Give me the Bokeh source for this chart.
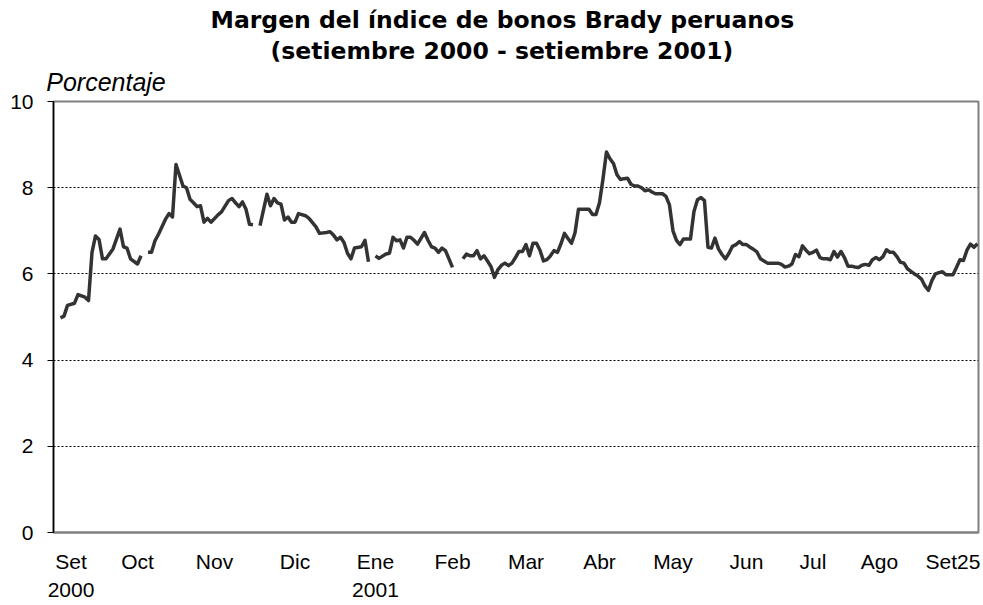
import numpy as np
from bokeh.plotting import figure
from bokeh.models import Range1d, FixedTicker, ColumnDataSource, Title, LinearAxis
from bokeh.embed import file_html
from bokeh.resources import INLINE

nan = float("nan")

# trading-day index (0 = start of Sep 2000) and spread in percent
dia = [2, 3, 4, 6, 7, 9, 10, 11, 12, 13, 14, 15, 17, 19, 20, 21, 22, 24, 25, 26,
       27, 28, 29, 30, 32, 33, 34, 35, 37, 38, 39, 40, 41, 42, 43, 44, 45, 47, 48, 50,
       51, 52, 53, 54, 55, 56, 57, 58,
       59, 61, 62, 63, 64, 65, 66, 67, 68, 69, 70, 72, 73, 75, 76, 78, 79, 80, 81, 82,
       83, 84, 85, 86, 88, 89, 90, 91,
       92, 93, 95, 96, 97, 98, 99, 100, 101, 102, 103, 104, 106, 107, 108, 109, 110, 111,
       112, 113, 114, 115,
       117, 118, 119, 120, 121, 122, 123, 124, 125, 126, 127, 128, 129, 130, 131, 132,
       133, 134, 135, 136, 137, 138, 139, 140, 141, 142, 143, 144, 145, 146, 147, 148,
       149, 150, 151, 152, 153, 154, 155, 156, 157, 158, 159, 160, 161, 162, 163, 164,
       165, 166, 167, 168, 169, 170, 171, 172, 173, 174, 175, 176, 177, 178, 179, 180,
       181, 182, 183, 184, 185, 186, 187, 188, 189, 190, 191, 192, 193, 194, 195, 196,
       197, 198, 199, 200, 201, 202, 203, 204, 205, 206, 207, 208, 209, 210, 211, 212,
       213, 214, 215, 216, 217, 218, 219, 220, 221, 222, 223, 224, 225, 226, 227, 228,
       229, 230, 231, 232, 233, 234, 235, 236, 237, 238, 239, 240, 241, 242, 243, 244,
       245, 246, 247, 248, 249, 250, 251, 252, 253, 254, 255, 256, 257, 258, 259, 260,
       261, 262, 263, 264]

margen = [4.98, 5.02, 5.27, 5.32, 5.52, 5.46, 5.38, 6.5, 6.88, 6.8, 6.35, 6.35, 6.58, 7.04,
          6.63, 6.6, 6.35, 6.23, 6.42, nan,
          6.5, 6.5, 6.77, 6.92, 7.27, 7.4, 7.32, 8.54, 8.04, 8.0, 7.73, 7.65, 7.56, 7.58,
          7.2, 7.29, 7.2, 7.37, 7.44, 7.7, 7.75, 7.65, 7.56, 7.67, 7.5, 7.15, 7.14, nan,
          7.12, 7.85, 7.58, 7.75, 7.65, 7.62, 7.25, 7.32, 7.2, 7.2, 7.4, 7.35, 7.29, 7.09,
          6.94, 6.96, 6.98, 6.9, 6.79, 6.85, 6.73, 6.48, 6.35, 6.6, 6.63, 6.78, 6.28, nan,
          6.42, 6.36, 6.46, 6.48, 6.85, 6.77, 6.79, 6.6, 6.85, 6.85, 6.78, 6.69, 6.96, 6.78,
          6.63, 6.6, 6.5, 6.6, 6.54, 6.35, 6.15, nan,
          6.35, 6.46, 6.42, 6.42, 6.54, 6.35, 6.42, 6.3, 6.17, 5.92, 6.1, 6.2, 6.25, 6.19,
          6.25, 6.38, 6.52, 6.52, 6.68, 6.42, 6.71, 6.71, 6.55, 6.3, 6.33, 6.42, 6.54, 6.5,
          6.7, 6.94, 6.82, 6.71, 6.95, 7.5, 7.5, 7.5, 7.5, 7.38, 7.38, 7.65, 8.2, 8.83,
          8.67, 8.56, 8.3, 8.19, 8.21, 8.22, 8.08, 8.04, 8.04, 8.0, 7.93, 7.95, 7.9, 7.86,
          7.86, 7.86, 7.8, 7.6, 7.0, 6.78, 6.68, 6.81, 6.81, 6.81, 7.45, 7.72, 7.77, 7.7,
          6.62, 6.6, 6.83, 6.58, 6.45, 6.35, 6.48, 6.64, 6.68, 6.75, 6.68, 6.68, 6.62, 6.57,
          6.51, 6.35, 6.3, 6.25, 6.25, 6.25, 6.25, 6.22, 6.16, 6.18, 6.23, 6.45, 6.4, 6.65,
          6.55, 6.47, 6.5, 6.55, 6.38, 6.35, 6.35, 6.33, 6.52, 6.39, 6.52, 6.38, 6.18, 6.18,
          6.16, 6.15, 6.2, 6.22, 6.2, 6.33, 6.38, 6.33, 6.4, 6.56, 6.5, 6.5, 6.4, 6.27,
          6.25, 6.12, 6.06, 6.0, 5.95, 5.88, 5.72, 5.62, 5.85, 6.0, 6.03, 6.05, 5.98, 5.98,
          5.98, 6.15, 6.33, 6.31, 6.55, 6.69, 6.62, 6.7]

mes_pos = [5, 24, 46, 69, 92, 114, 135, 156, 177, 198, 217, 236, 257]
mes_txt = ["Set", "Oct", "Nov", "Dic", "Ene", "Feb", "Mar", "Abr", "May", "Jun",
           "Jul", "Ago", "Set25"]
anio_pos = [5, 92]
anio_txt = ["2000", "2001"]
y_ticks = [0, 2, 4, 6, 8, 10]
y_grid = [2, 4, 6, 8]

titulo = ["Margen del índice de bonos Brady peruanos",
          "(setiembre 2000 - setiembre 2001)"]
unidad = "Porcentaje"
unidad_pos = 15  # x (trading day) above which the unit caption is centred

src = ColumnDataSource(data=dict(dia=np.array(dia, dtype=float),
                                 margen=np.array(margen, dtype=float)))

W, H = 983, 605
p = figure(width=W, height=H, output_backend="svg", toolbar_location=None,
           x_range=Range1d(0, 264.3), y_range=Range1d(0, 10),
           min_border_left=53, min_border_right=5, min_border_top=101,
           min_border_bottom=73, title=None)
p.background_fill_color = "white"
p.border_fill_color = "white"
p.outline_line_color = "#808080"
p.outline_line_width = 2

FONT = "Liberation Sans"

# x axis: month labels, with the year on a second line where it starts
anio = dict(zip(anio_pos, anio_txt))
p.xaxis.ticker = FixedTicker(ticks=mes_pos)
p.xaxis.major_label_overrides = {
    k: (t + "\n" + anio[k]) if k in anio else t for k, t in zip(mes_pos, mes_txt)}
p.xaxis.major_tick_out = 0
p.xaxis.major_tick_in = 0
p.xaxis.minor_tick_out = 0
p.xaxis.minor_tick_in = 0
p.xaxis.axis_line_color = "#808080"
p.xaxis.axis_line_width = 2
p.xaxis.major_label_standoff = 17
p.xaxis.major_label_text_font = FONT
p.xaxis.major_label_text_font_size = "21px"
p.xaxis.major_label_text_color = "black"
p.xaxis.major_label_text_line_height = 1.25

# y axis
p.yaxis.ticker = FixedTicker(ticks=y_ticks)
p.yaxis.major_tick_out = 6
p.yaxis.major_tick_in = 0
p.yaxis.minor_tick_out = 0
p.yaxis.minor_tick_in = 0
p.yaxis.axis_line_color = "black"
p.yaxis.axis_line_width = 1.5
p.yaxis.major_tick_line_color = "black"
p.yaxis.major_label_standoff = 14
p.yaxis.major_label_text_font = FONT
p.yaxis.major_label_text_font_size = "21px"
p.yaxis.major_label_text_color = "black"

p.xgrid.visible = False
p.ygrid.ticker = FixedTicker(ticks=y_grid)
p.ygrid.grid_line_color = "black"
p.ygrid.grid_line_dash = "2 2"
p.ygrid.grid_line_width = 1

p.line("dia", "margen", source=src, line_color="#333333", line_width=3.5,
       line_join="round")

# unit caption just above the frame: a bare top axis carrying one label
cap = LinearAxis(ticker=FixedTicker(ticks=[unidad_pos]),
                 major_label_overrides={unidad_pos: unidad},
                 axis_line_color=None, major_tick_line_color=None,
                 minor_tick_line_color=None, major_tick_out=0, major_tick_in=0,
                 minor_tick_out=0, minor_tick_in=0, major_label_standoff=6,
                 major_label_text_font=FONT, major_label_text_font_style="italic",
                 major_label_text_font_size="25px", major_label_text_color="black")
p.add_layout(cap, "above")

# two-line title
p.add_layout(Title(text=titulo[1], align="left", offset=217, standoff=0,
                   text_font="DejaVu Sans", text_font_style="bold",
                   text_font_size="23.5px", text_color="black"), "above")
p.add_layout(Title(text=titulo[0], align="left", offset=157, standoff=2,
                   text_font="DejaVu Sans", text_font_style="bold",
                   text_font_size="23.5px", text_color="black"), "above")

open("out.html", "w").write(file_html(p, INLINE))
